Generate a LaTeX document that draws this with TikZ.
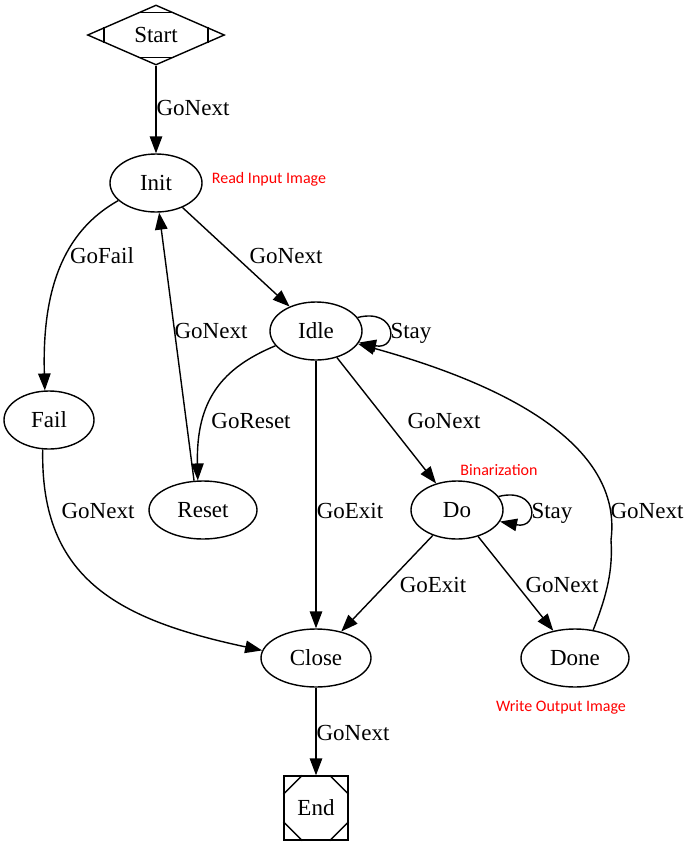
\documentclass[tikz,border=0pt]{standalone}
\usepackage{fontspec}
\setmainfont{Liberation Serif}
\newfontfamily\redfont{Carlito}
\usetikzlibrary{arrows.meta,shapes.geometric,calc}
\begin{document}
\begin{tikzpicture}[x=1pt,y=-1pt,
  txt/.style={font=\fontsize{23}{27}\selectfont, text height=15pt, text depth=0pt},
  st/.style={draw, ellipse, line width=1.4pt, inner sep=0pt, txt},
  edge/.style={line width=1.4pt, -{Triangle[length=17pt,width=12.5pt]}},
  lbl/.style={txt, inner sep=0pt},
  note/.style={font=\redfont\fontsize{16}{19}\selectfont, text=red, inner sep=0pt, text height=10pt, text depth=0pt},
  mark/.style={line width=1.4pt}]
\useasboundingbox (0,0) rectangle (690,847);
% nodes
\node[draw, diamond, line width=1.4pt, minimum width=137pt, minimum height=60pt, inner sep=0pt, txt] (startst) at (156,35) {Start};
\draw[line width=1.4pt] ($(startst.north)!0.267!(startst.west)$) -- ($(startst.north)!0.267!(startst.east)$);
\draw[line width=1.4pt] ($(startst.south)!0.267!(startst.west)$) -- ($(startst.south)!0.267!(startst.east)$);
\draw[line width=1.4pt] ($(startst.west)!0.248!(startst.north)$) -- ($(startst.west)!0.248!(startst.south)$);
\draw[line width=1.4pt] ($(startst.east)!0.248!(startst.north)$) -- ($(startst.east)!0.248!(startst.south)$);
\node[st, minimum width=92pt, minimum height=58pt] (init) at (156,183) {Init};
\node[st, minimum width=92pt, minimum height=58pt] (idle) at (316,331) {Idle};
\node[st, minimum width=90pt, minimum height=58pt] (fail) at (49,420) {Fail};
\node[st, minimum width=108pt, minimum height=58pt] (reset) at (203,510) {Reset};
\node[st, minimum width=92pt, minimum height=58pt] (do) at (457,510) {Do};
\node[st, minimum width=110pt, minimum height=58pt] (close) at (316,658) {Close};
\node[st, minimum width=108pt, minimum height=58pt] (done) at (575,658) {Done};
\node[draw, rectangle, line width=1.4pt, minimum size=64pt, inner sep=0pt, txt] (endst) at (316,808) {End};
\draw[line width=1.4pt] ($(endst.north west)+(19,0)$) -- ($(endst.north west)+(0,19)$);
\draw[line width=1.4pt] ($(endst.north east)+(-19,0)$) -- ($(endst.north east)+(0,19)$);
\draw[line width=1.4pt] ($(endst.south west)+(19,0)$) -- ($(endst.south west)+(0,-19)$);
\draw[line width=1.4pt] ($(endst.south east)+(-19,0)$) -- ($(endst.south east)+(0,-19)$);
% notes
\node[note] (n1) at (269,178) {Read Input Image};
\node[note] (n2) at (499,470) {Binarization};
\node[note] (n3) at (561,706) {Write Output Image};
% edges
\draw[edge] (startst) -- (init);
\draw[edge] (init.205) .. controls (62,232) and (42,292) .. (fail.98);
\draw[edge] (init) -- (idle);
\draw[edge] (reset.107) -- (init.276);
\draw[edge] (idle.18) .. controls +(40,-10) and +(40,8) .. (idle.-15);
\draw[edge] (idle.200) .. controls (222,368) and (196,400) .. (reset.100);
\draw[edge] (idle) -- (do);
\draw[edge] (idle) -- (close);
\draw[edge] (fail.258) .. controls (40,580) and (120,620) .. (close.172);
\draw[edge] (do.18) .. controls +(40,-10) and +(40,8) .. (do.-15);
\draw[edge] (do) -- (close);
\draw[edge] (do) -- (done);
\draw[edge] (done.57) .. controls (607,595) and (613,570) .. (611,540) .. controls (620,470) and (560,400) .. (idle.-17);
\draw[edge] (close) -- (endst);
% labels
\node[lbl] (l1) at (193,108) {GoNext};
\node[lbl] (l2) at (102,256) {GoFail};
\node[lbl] (l3) at (286,256) {GoNext};
\node[lbl] (l4) at (211,331) {GoNext};
\node[lbl] (l5) at (411,331) {Stay};
\node[lbl] (l6) at (251,421) {GoReset};
\node[lbl] (l7) at (444,421) {GoNext};
\node[lbl] (l8) at (98,511) {GoNext};
\node[lbl] (l9) at (350,511) {GoExit};
\node[lbl] (l10) at (552,511) {Stay};
\node[lbl] (l11) at (647,511) {GoNext};
\node[lbl] (l12) at (433,585) {GoExit};
\node[lbl] (l13) at (562,585) {GoNext};
\node[lbl] (l14) at (353,733) {GoNext};
\end{tikzpicture}
\end{document}
